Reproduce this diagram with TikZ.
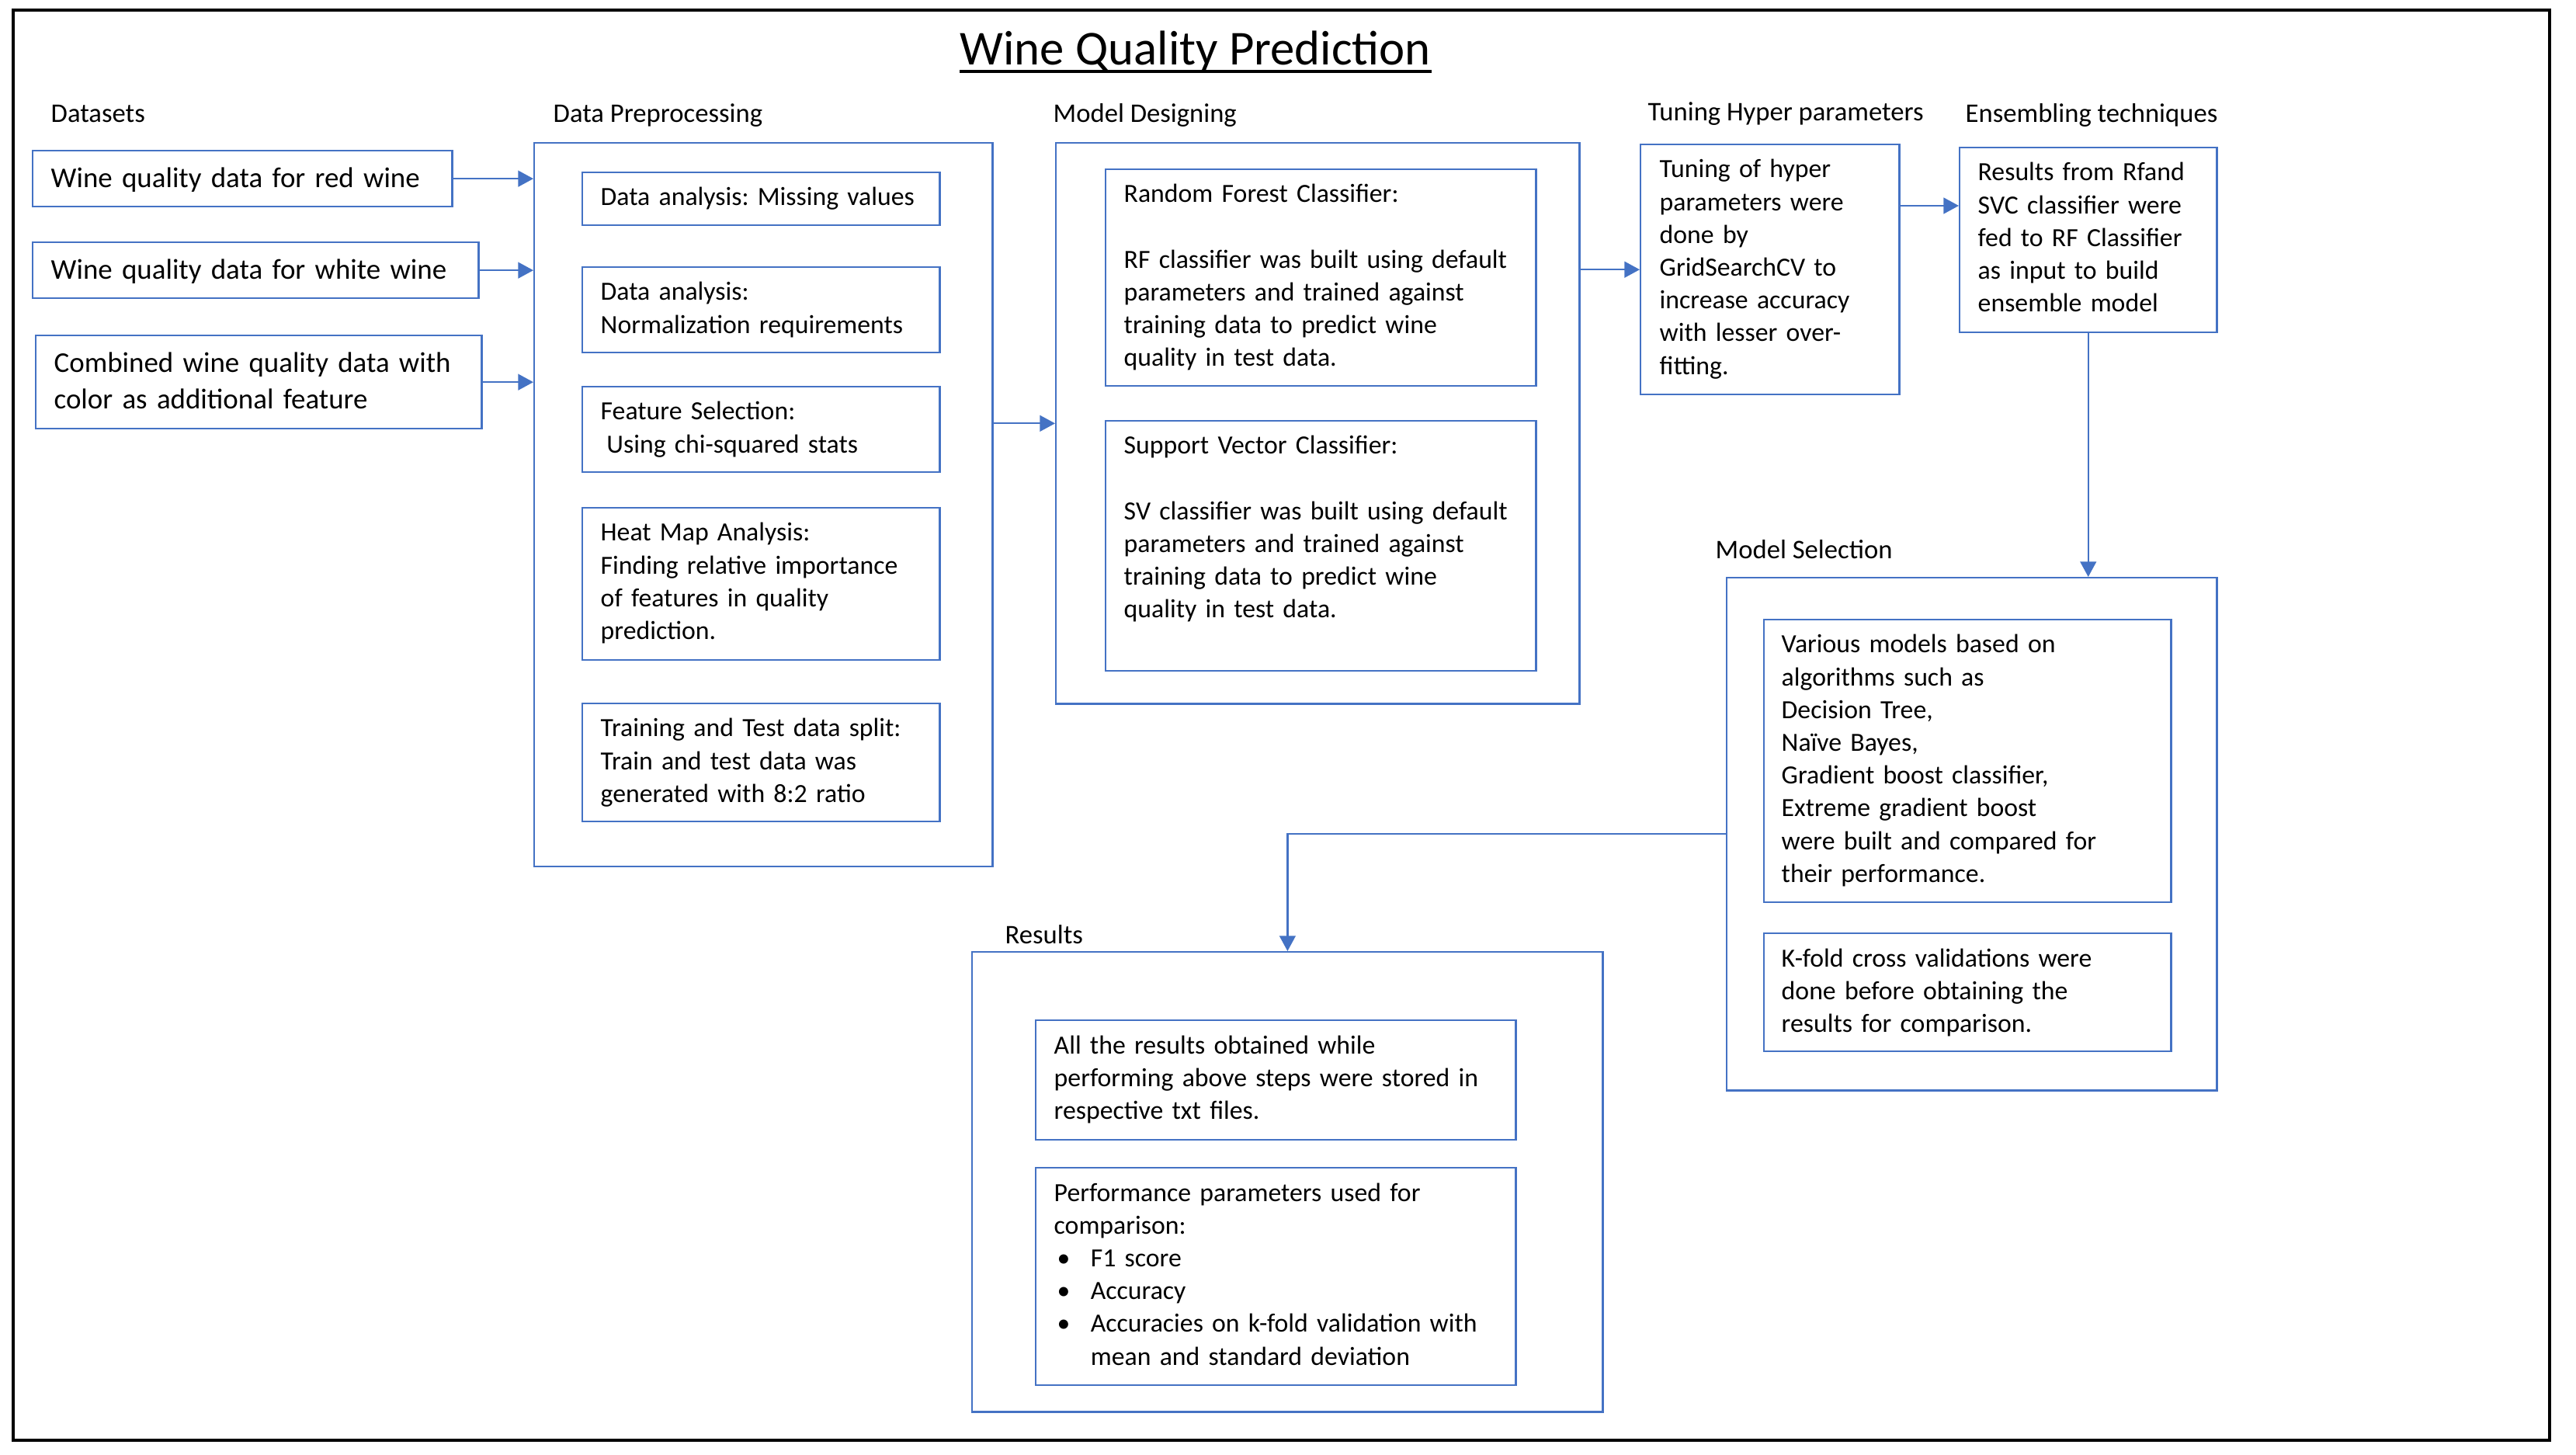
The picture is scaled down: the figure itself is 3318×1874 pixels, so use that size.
\documentclass[tikz,border=0pt]{standalone}
\usepackage{fontspec}
\setmainfont{Carlito}
\usetikzlibrary{arrows.meta}
\definecolor{ob}{HTML}{4472C4}
\frenchspacing
\newcommand\bodyf{\fontsize{9.6pt}{12.0pt}\selectfont}
\newcommand\dsf{\fontsize{10.5pt}{13.1pt}\selectfont}
\newcommand\labf{\fontsize{9.85pt}{12pt}\selectfont}
\newcommand\titf{\fontsize{17.85pt}{21pt}\selectfont}
\newcommand\bul{\makebox[13.4pt][l]{\hspace*{1.1pt}•}}
\tikzset{
  bx/.style={draw=ob, line width=0.65pt, rectangle, inner sep=0pt, fill=none},
  txt/.style={inner sep=0pt, align=left, text width=9cm, font=\bodyf, anchor=base west},
  dtxt/.style={txt, font=\dsf},
  lab/.style={inner sep=0pt, font=\labf, anchor=base west},
  arr/.style={draw=ob, line width=0.65pt, -{Triangle[length=5.6pt,width=5.9pt]}},
}
\newcommand\boxat[5]{\node[bx, anchor=north west, minimum width=#4, minimum height=#5] (#1) at (#2,#3) {};}
\begin{document}
\begin{tikzpicture}[x=0.01cm,y=-0.01cm]
\fill[white] (0,0) rectangle (3318,1874);
\useasboundingbox (0,0) rectangle (3318,1874);
% frame
\draw[line width=1.15pt] (17,13) rectangle (3284,1855);
% title
\node[inner sep=0pt, font=\titf, anchor=base west] (title) at (1236,84) {Wine Quality Prediction};
\draw[line width=1.1pt] ([shift={(0,8)}]title.base west) -- ([shift={(0,8)}]title.base east);
% section labels
\node[lab] (l-ds) at (65,158) {Datasets};
\node[lab] (l-dp) at (712,158) {Data Preprocessing};
\node[lab] (l-md) at (1356,158) {Model Designing};
\node[lab] (l-th) at (2122,156) {Tuning Hyper parameters};
\node[lab] (l-en) at (2531,158) {Ensembling techniques};
\node[lab] (l-ms) at (2209,720) {Model Selection};
\node[lab] (l-rs) at (1294,1216) {Results};
% boxes
\boxat{red}{41}{193}{5.40cm}{0.72cm}
\boxat{white}{41}{311}{5.74cm}{0.72cm}
\boxat{comb}{45}{431}{5.74cm}{1.20cm}
\boxat{pre}{687}{183}{5.90cm}{9.31cm}
\boxat{mv}{749}{221}{4.60cm}{0.68cm}
\boxat{nr}{749}{343}{4.60cm}{1.10cm}
\boxat{fs}{749}{497}{4.60cm}{1.10cm}
\boxat{hm}{749}{653}{4.60cm}{1.96cm}
\boxat{tt}{749}{905}{4.60cm}{1.52cm}
\boxat{md}{1359}{183}{6.74cm}{7.22cm}
\boxat{rf}{1423}{217}{5.54cm}{2.79cm}
\boxat{sv}{1423}{541}{5.54cm}{3.22cm}
\boxat{tun}{2112}{185}{3.33cm}{3.22cm}
\boxat{ens}{2523}{189}{3.31cm}{2.38cm}
\boxat{ms}{2223}{743}{6.31cm}{6.60cm}
\boxat{va}{2271}{797}{5.24cm}{3.64cm}
\boxat{kf}{2271}{1201}{5.24cm}{1.52cm}
\boxat{res}{1251}{1225}{8.12cm}{5.92cm}
\boxat{ar}{1333}{1313}{6.18cm}{1.54cm}
\boxat{pp}{1333}{1503}{6.18cm}{2.80cm}
% texts
\node[dtxt] (t-red) at ([shift={(24,49)}]red.north west) {Wine quality data for red wine};
\node[dtxt] (t-white) at ([shift={(24,49)}]white.north west) {Wine quality data for white wine};
\node[dtxt] (t-comb) at ([shift={(24,49)}]comb.north west) {Combined wine quality data with\\color as additional feature};
\node[txt] (t-mv) at ([shift={(24,44)}]mv.north west) {Data analysis: Missing values};
\node[txt] (t-nr) at ([shift={(24,44)}]nr.north west) {Data analysis:\\Normalization requirements};
\node[txt] (t-fs) at ([shift={(24,44)}]fs.north west) {Feature Selection:\\\hspace*{2.2pt}Using chi-squared stats};
\node[txt] (t-hm) at ([shift={(24,44)}]hm.north west) {Heat Map Analysis:\\Finding relative importance\\of features in quality\\prediction.};
\node[txt] (t-tt) at ([shift={(24,44)}]tt.north west) {Training and Test data split:\\Train and test data was\\generated with 8:2 ratio};
\node[txt] (t-rf) at ([shift={(24,44)}]rf.north west) {Random Forest Classifier:\\\mbox{}\\RF classifier was built using default\\parameters and trained against\\training data to predict wine\\quality in test data.};
\node[txt] (t-sv) at ([shift={(24,44)}]sv.north west) {Support Vector Classifier:\\\mbox{}\\SV classifier was built using default\\parameters and trained against\\training data to predict wine\\quality in test data.};
\node[txt] (t-tun) at ([shift={(25,44)}]tun.north west) {Tuning of hyper\\parameters were\\done by\\GridSearchCV to\\increase accuracy\\with lesser over-\\fitting.};
\node[txt] (t-ens) at ([shift={(24,44)}]ens.north west) {Results from Rfand\\SVC classifier were\\fed to RF Classifier\\as input to build\\ensemble model};
\node[txt] (t-va) at ([shift={(23,44)}]va.north west) {Various models based on\\algorithms such as\\Decision Tree,\\Naïve Bayes,\\Gradient boost classifier,\\Extreme gradient boost\\were built and compared for\\their performance.};
\node[txt] (t-kf) at ([shift={(23,44)}]kf.north west) {K-fold cross validations were\\done before obtaining the\\results for comparison.};
\node[txt] (t-ar) at ([shift={(24,44)}]ar.north west) {All the results obtained while\\performing above steps were stored in\\respective txt files.};
\node[txt] (t-pp) at ([shift={(24,44)}]pp.north west) {Performance parameters used for\\comparison:\\\bul F1 score\\\bul Accuracy\\\bul Accuracies on k-fold validation with\\\hspace*{13.4pt}mean and standard deviation};
% connectors
\draw[arr] (red.east) -- (red.east -| pre.west);
\draw[arr] (white.east) -- (white.east -| pre.west);
\draw[arr] (comb.east) -- (comb.east -| pre.west);
\draw[arr] (md.west -| pre.east) -- (md.west);
\draw[arr] (tun.west -| md.east) -- (tun.west);
\coordinate (tunout) at ([shift={(0,80)}]tun.north east);
\draw[arr] (tunout) -- (tunout -| ens.west);
\draw[arr] (ens.south) -- (ens.south |- ms.north);
\draw[arr] (ms.west) -| (res.north);
\end{tikzpicture}
\end{document}
